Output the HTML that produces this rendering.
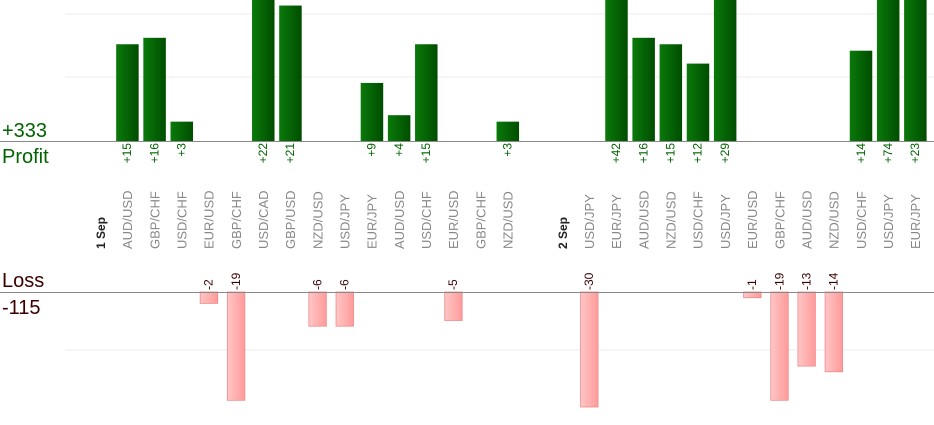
<!DOCTYPE html>
<html><head><meta charset="utf-8"><style>
body{margin:0;background:#fff;width:934px;height:420px;overflow:hidden}
svg text{font-family:"Liberation Sans",sans-serif}
</style></head><body>
<svg id="chart" width="934" height="420" viewBox="0 0 934 420">
<defs>
<linearGradient id="g" x1="0" x2="1" y1="0" y2="0"><stop offset="0" stop-color="#0a7a0a"/><stop offset="1" stop-color="#004d00"/></linearGradient>
<linearGradient id="p" x1="0" x2="1" y1="0" y2="0"><stop offset="0" stop-color="#ffc6c6"/><stop offset="1" stop-color="#ff9a9a"/></linearGradient>
</defs>
<line x1="65" x2="934" y1="14" y2="14" stroke="#eee"/>
<line x1="65" x2="934" y1="77" y2="77" stroke="#eee"/>
<line x1="65" x2="934" y1="350" y2="350" stroke="#eee"/>
<g id="marks"></g>
<line x1="0" x2="934" y1="141.5" y2="141.5" stroke="#888"/>
<line x1="0" x2="934" y1="292.5" y2="292.5" stroke="#888"/>
<text x="2" y="137" font-size="20" fill="#006400">+333</text>
<text x="2" y="163" font-size="20" fill="#006400">Profit</text>
<text x="2" y="287" font-size="20" fill="#3a0000">Loss</text>
<text x="2" y="314" font-size="20" fill="#3a0000">-115</text>
</svg>
<script>
const categories=["1 Sep","AUD/USD","GBP/CHF","USD/CHF","EUR/USD","GBP/CHF","USD/CAD","GBP/USD","NZD/USD","USD/JPY","EUR/JPY","AUD/USD","USD/CHF","EUR/USD","GBP/CHF","NZD/USD","","2 Sep","USD/JPY","EUR/JPY","AUD/USD","NZD/USD","USD/CHF","USD/JPY","EUR/USD","GBP/CHF","AUD/USD","NZD/USD","USD/CHF","USD/JPY","EUR/JPY"];
const profits=[0,15,16,3,0,0,22,21,0,0,9,4,15,0,0,3,0,0,0,42,16,15,12,29,0,0,0,0,14,74,23];
const losses=[0,0,0,0,-2,-19,0,0,-6,-6,0,0,0,-5,0,0,0,0,-30,0,0,0,0,0,-1,-19,-13,-14,0,0,0];
const ns="http://www.w3.org/2000/svg",g=document.getElementById('marks');
const xOf=i=>100+i*27.17;
const yP=v=>141-Math.min(v*6.45,141);
const yL=v=>292+Math.min(-v*5.7,115);
function mk(t,a,txt){const e=document.createElementNS(ns,t);for(const k in a)e.setAttribute(k,a[k]);if(txt!==undefined)e.textContent=txt;g.appendChild(e);return e;}
categories.forEach((c,i)=>{
 const x=xOf(i);
 if(c){
  const bold=c.indexOf("Sep")>=0;
  const t=mk('text',{x:x+5,y:249,'font-size':bold?12:13,'font-weight':bold?'bold':'normal',fill:bold?'#222':'#888',transform:`rotate(-90 ${x+5} 249)`},c);
  
  
 }
 const p=profits[i];
 if(p>0){
  const r=mk('rect',{x:x-11,y:yP(p),width:22.5,height:141-yP(p),fill:'url(#g)'});
  
  
  const t=mk('text',{x:x+4,y:143,'font-size':12,fill:'#006400','text-anchor':'end',transform:`rotate(-90 ${x+4} 143)`},'+'+p);
  
  
 }
 const l=losses[i];
 if(l<0){
  const r=mk('rect',{x:x-8.5,y:292,width:17.5,height:yL(l)-292,fill:'url(#p)',stroke:'#f08a8a','stroke-width':0.8});
  
  
  const t=mk('text',{x:x+4,y:290,'font-size':12,fill:'#3a0000','text-anchor':'start',transform:`rotate(-90 ${x+4} 290)`},''+l);
  
  
 }
});
</script>
</body></html>
